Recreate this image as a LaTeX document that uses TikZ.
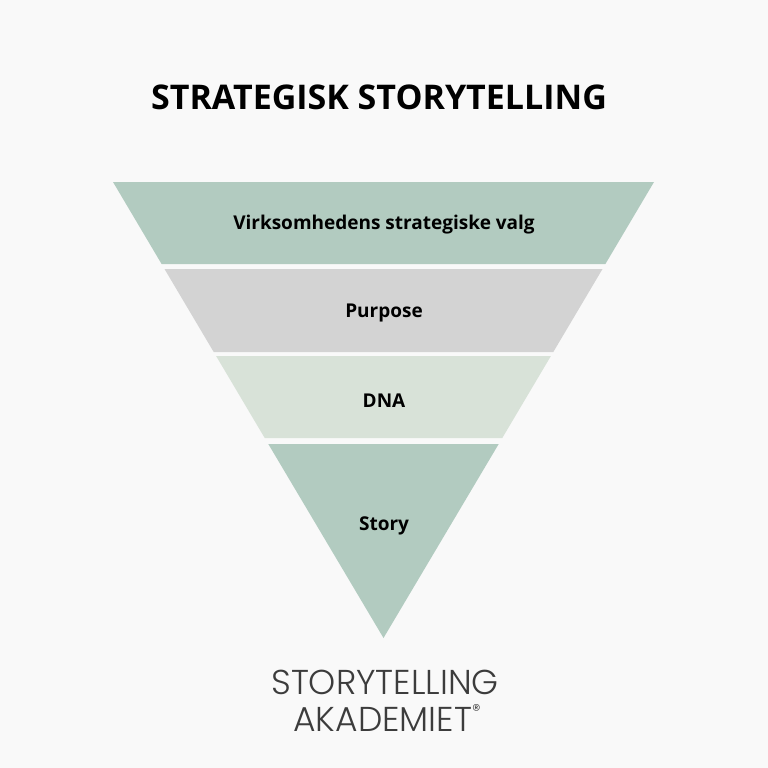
\documentclass[tikz,border=0pt]{standalone}
\usepackage{fontspec}
\setmainfont{Open Sans}
\newfontfamily\logofont{Poppins Light}
\usepackage{tikz}
\usetikzlibrary{positioning}
\definecolor{pagebg}{RGB}{249, 249, 249}
\definecolor{sagegreen}{RGB}{178, 203, 192}
\definecolor{softgray}{RGB}{211, 211, 211}
\definecolor{palesage}{RGB}{216, 226, 216}
\definecolor{logogray}{RGB}{60, 60, 60}

\begin{document}
\begin{tikzpicture}[
    x=1pt, y=-1pt,
    band/.style={fill=#1, draw=none},
    label/.style={font=\fontsize{19}{22}\selectfont\bfseries, text=black},
    title/.style={font=\fontsize{34}{40}\selectfont\bfseries, text=black},
    logo/.style={font=\logofont\fontsize{34.5}{40}\selectfont, text=logogray, inner sep=0pt, anchor=base}
]
    \fill[pagebg] (0,0) rectangle (768,768);
    \useasboundingbox (0,0) rectangle (768,768);

    % funnel bands
    \fill[band=sagegreen] (113,182) -- (654,182) -- (605.4,264) -- (161.6,264) -- cycle;
    \fill[band=softgray]  (164.5,269) -- (602.5,269) -- (553.3,352) -- (213.7,352) -- cycle;
    \fill[band=palesage]  (216.1,356) -- (550.9,356) -- (502.3,438) -- (264.7,438) -- cycle;
    \fill[band=sagegreen] (268.3,444) -- (498.7,444) -- (383.5,638) -- cycle;

    \node[title] (heading) at (379,97) {STRATEGISK STORYTELLING};

    \node[label] (choices) at (384,225) {Virksomhedens strategiske valg};
    \node[label] (purpose) at (384,313) {Purpose};
    \node[label] (dna) at (384,401) {DNA};
    \node[label] (story) at (384,526) {Story};

    \node[logo] (brand) at (385,694) {STORYTELLING};
    \node[logo] (academy) at (387,731) {AKADEMIET\raisebox{0.75ex}{\fontsize{17}{18}\selectfont®}};
\end{tikzpicture}
\end{document}
